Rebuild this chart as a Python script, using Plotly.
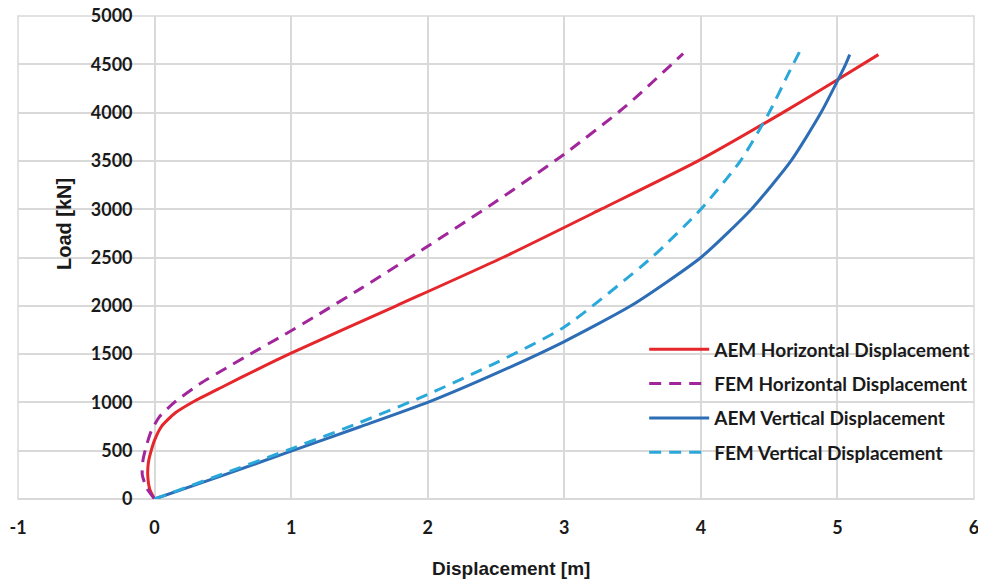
import plotly.graph_objects as go

# AEM Horizontal Displacement (red, solid)
aem_h_x = [0.0, -0.035, -0.05, -0.045, -0.025, 0.0, 0.05, 0.15, 0.3, 0.51, 0.75, 1.0, 1.77, 2.55, 3.27, 3.98, 4.6, 5.0, 5.3]
aem_h_y = [0, 100, 250, 380, 500, 610, 750, 890, 1020, 1170, 1340, 1510, 2000, 2500, 3000, 3500, 4000, 4340, 4600]

# FEM Horizontal Displacement (purple, dashed)
fem_h_x = [0.0, -0.06, -0.09, -0.085, -0.06, -0.025, 0.035, 0.145, 0.34, 0.53, 0.7, 0.95, 1.2, 1.5, 2.0, 2.5, 3.0, 3.45, 3.87]
fem_h_y = [0, 120, 250, 400, 550, 700, 850, 1000, 1200, 1360, 1500, 1700, 1910, 2170, 2617, 3080, 3570, 4066, 4610]

# AEM Vertical Displacement (blue, solid)
aem_v_x = [0.0, 0.5, 1.0, 1.5, 2.0, 2.5, 3.0, 3.5, 4.0, 4.37, 4.66, 4.88, 5.06, 5.09]
aem_v_y = [0, 245, 495, 745, 1000, 1300, 1630, 2010, 2500, 3000, 3500, 4000, 4500, 4600]

# FEM Vertical Displacement (light blue, dashed)
fem_v_x = [0.0, 0.5, 1.02, 1.5, 2.0, 2.5, 3.0, 3.64, 4.0, 4.29, 4.5, 4.64, 4.73]
fem_v_y = [0, 260, 530, 790, 1082, 1410, 1780, 2500, 3000, 3500, 4000, 4400, 4650]

x_ticks = [-1, 0, 1, 2, 3, 4, 5, 6]
y_ticks = [0, 500, 1000, 1500, 2000, 2500, 3000, 3500, 4000, 4500, 5000]

fig = go.Figure()
fig.add_trace(go.Scatter(x=aem_h_x, y=aem_h_y, mode="lines", name="AEM Horizontal Displacement",
                         line=dict(color="#E5262A", width=3, shape="spline", smoothing=0.6), legendgroup="a"))
fig.add_trace(go.Scatter(x=fem_h_x, y=fem_h_y, mode="lines", name="FEM Horizontal Displacement",
                         line=dict(color="#A1259B", width=3, dash="12px,8px", shape="spline", smoothing=0.6), legendgroup="b"))
fig.add_trace(go.Scatter(x=aem_v_x, y=aem_v_y, mode="lines", name="AEM Vertical Displacement",
                         line=dict(color="#2C6DB5", width=3, shape="spline", smoothing=0.6), legendgroup="c"))
fig.add_trace(go.Scatter(x=fem_v_x, y=fem_v_y, mode="lines", name="FEM Vertical Displacement",
                         line=dict(color="#2BA8DA", width=3, dash="12px,8px", shape="spline", smoothing=0.6), legendgroup="d"))

grid = "#D9D9D9"
tickfont = dict(family="Lato", size=18, color="#1a1a1a", weight="bold")

# page body has an 8px default margin: figure is 978x573 placed at (8, 8)
fig.update_layout(
    width=978, height=573,
    margin=dict(l=10, r=12, t=8, b=82),
    paper_bgcolor="white", plot_bgcolor="white",
    showlegend=True,
    legend=dict(x=0.655, y=0.349, xanchor="left", yanchor="top",
                font=dict(family="Lato", size=19, color="#1a1a1a", weight="bold"),
                bgcolor="rgba(0,0,0,0)", traceorder="grouped", tracegroupgap=6.6,
                itemwidth=60),
    xaxis=dict(range=[-1, 6], tickvals=x_ticks, ticktext=[str(v) for v in x_ticks],
               showgrid=True, gridcolor=grid, gridwidth=1.5,
               zeroline=True, zerolinecolor=grid, zerolinewidth=1.5,
               showline=False, ticks="", tickfont=tickfont, ticklabelstandoff=16,
               ticklabeloverflow="allow", automargin=False),
    yaxis=dict(range=[0, 5000], tickvals=y_ticks, ticktext=[str(v) for v in y_ticks],
               anchor="free", position=1/7, side="left",
               showgrid=True, gridcolor=grid, gridwidth=1.5,
               zeroline=True, zerolinecolor=grid, zerolinewidth=1.5,
               showline=False, ticks="", tickfont=tickfont, ticklabelstandoff=22,
               ticklabeloverflow="allow", automargin=False),
    shapes=[dict(type="rect", xref="x domain", yref="y domain", x0=0, x1=1, y0=0, y1=1,
                 line=dict(color=grid, width=1.5), layer="below")],
    annotations=[
        dict(text="<b>Displacement [m]</b>", xref="paper", yref="paper", x=(511-18)/956, y=-(568-499)/483,
             xanchor="center", yanchor="middle", showarrow=False,
             font=dict(family="Liberation Sans", size=19, color="#1a1a1a")),
        dict(text="<b>Load [kN]</b>", xref="paper", yref="paper", x=(64-18)/956, y=(499-224)/483,
             xanchor="center", yanchor="middle", showarrow=False, textangle=-90,
             font=dict(family="Liberation Sans", size=20, color="#1a1a1a")),
    ],
)

fig.write_html("out.html")
